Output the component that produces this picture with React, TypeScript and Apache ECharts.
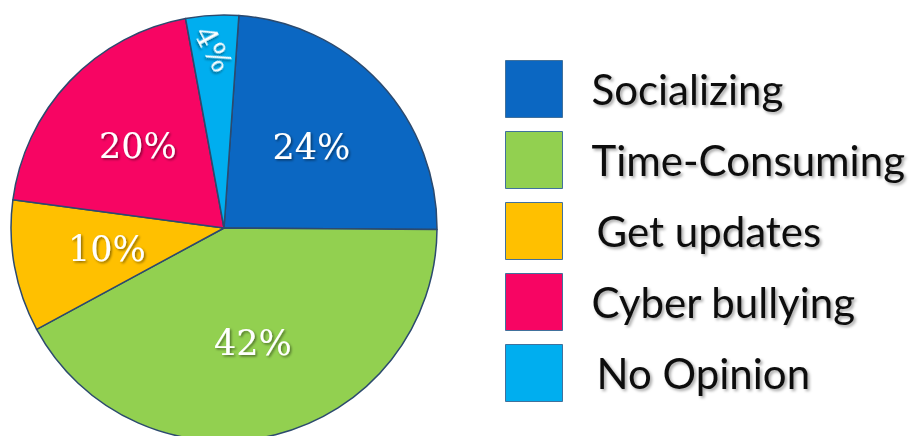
import React, { useEffect, useRef } from "react";
import * as echarts from "echarts";

const categories = ["Socializing", "Time-Consuming", "Get updates", "Cyber bullying", "No Opinion"];
const values = [24, 42, 10, 20, 4];
const colors = ["#0B67C2", "#92D050", "#FFC000", "#F70563", "#00AEEF"];
const outerLabelOnly = ["No Opinion"];
const indentedLegend = ["Get updates", "No Opinion"];

export default function App() {
  const ref = useRef<HTMLDivElement>(null);
  useEffect(() => {
    document.body.style.margin = "0";
    const chart = echarts.init(ref.current!, undefined, { renderer: "svg" });
    const center = [224, 228];
    const R = 213;
    const labelStyle = {
      color: "#ffffff",
      fontFamily: "DejaVu Serif",
      fontSize: 35,
      textShadowColor: "rgba(0,0,0,0.45)",
      textShadowBlur: 2,
      textShadowOffsetX: 1.5,
      textShadowOffsetY: 1.5,
      formatter: "{c}%",
    };
    const baseData = categories.map((name, i) => ({
      name,
      value: values[i],
      itemStyle: { color: colors[i] },
    }));
    chart.setOption({
      animation: false,
      legend: {
        orient: "vertical",
        left: 505,
        top: 60,
        padding: 0,
        itemWidth: 57,
        itemHeight: 57,
        itemGap: 13,
        icon: "rect",
        selectedMode: false,
        data: categories.map((name) => ({
          name,
          textStyle: { padding: [0, 0, 0, indentedLegend.includes(name) ? 29 : 24] },
        })),
        itemStyle: { borderColor: "#41719C", borderWidth: 1 },
        textStyle: {
          fontFamily: "Lato",
          fontSize: 42,
          color: "#111111",
          padding: [0, 0, 0, 24],
          textShadowColor: "rgba(0,0,0,0.35)",
          textShadowBlur: 3,
          textShadowOffsetX: 2,
          textShadowOffsetY: 2,
        },
      },
      series: [
        {
          type: "pie",
          center,
          radius: R,
          startAngle: 86,
          clockwise: true,
          silent: true,
          label: { show: false },
          labelLine: { show: false },
          itemStyle: { borderColor: "#2C4A6E", borderWidth: 1.5 },
          emphasis: { disabled: true },
          data: baseData,
        },
        {
          type: "pie",
          center,
          radius: [0, 232],
          startAngle: 86,
          clockwise: true,
          silent: true,
          avoidLabelOverlap: false,
          itemStyle: { color: "rgba(0,0,0,0)", borderWidth: 0 },
          labelLine: { show: false },
          emphasis: { disabled: true },
          label: { show: true, position: "inside", ...labelStyle },
          data: categories.map((name, i) => ({
            name,
            value: values[i],
            itemStyle: { color: "rgba(0,0,0,0)" },
            label: { show: !outerLabelOnly.includes(name) },
          })),
        },
        {
          type: "pie",
          center,
          radius: [140, 213],
          startAngle: 86,
          clockwise: true,
          silent: true,
          avoidLabelOverlap: false,
          itemStyle: { color: "rgba(0,0,0,0)", borderWidth: 0 },
          labelLine: { show: false },
          emphasis: { disabled: true },
          label: { show: true, position: "inside", ...labelStyle, fontSize: 30, rotate: -62 },
          data: categories.map((name, i) => ({
            name,
            value: values[i],
            itemStyle: { color: "rgba(0,0,0,0)" },
            label: { show: outerLabelOnly.includes(name) },
          })),
        },
      ],
    });
    return () => chart.dispose();
  }, []);
  return <div ref={ref} style={{ width: 913, height: 436 }} />;
}
